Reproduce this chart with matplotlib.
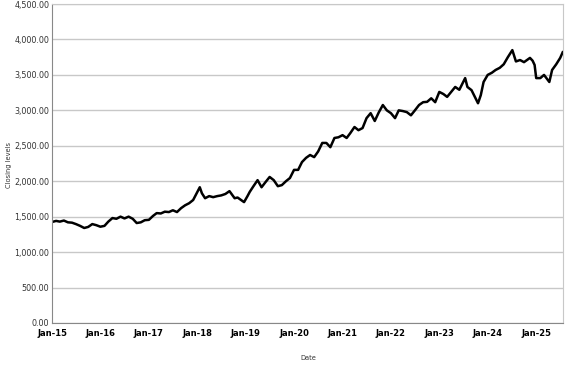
import numpy as np
import pandas as pd
import matplotlib
matplotlib.use('Agg')
import matplotlib.pyplot as plt
import matplotlib.dates as mdates
from matplotlib.ticker import FuncFormatter

dates = ['2015-01-02', '2015-02-01', '2015-03-01', '2015-04-01', '2015-05-01', '2015-06-01',
         '2015-07-01', '2015-08-01', '2015-09-01', '2015-10-01', '2015-11-01', '2015-12-01',
         '2016-01-01', '2016-02-01', '2016-03-01', '2016-04-01', '2016-05-01', '2016-06-01',
         '2016-07-01', '2016-08-01', '2016-09-01', '2016-10-01', '2016-11-01', '2016-12-01',
         '2017-01-01', '2017-02-01', '2017-03-01', '2017-04-01', '2017-05-01', '2017-06-01',
         '2017-07-01', '2017-08-01', '2017-09-01', '2017-10-01', '2017-11-01', '2017-12-01',
         '2018-01-20', '2018-02-05', '2018-03-01', '2018-04-01', '2018-05-01', '2018-06-01',
         '2018-07-01', '2018-08-01', '2018-09-01', '2018-10-10', '2018-11-01', '2018-12-20',
         '2019-01-15', '2019-02-01', '2019-03-01', '2019-04-01', '2019-05-01', '2019-06-01',
         '2019-07-01', '2019-08-01', '2019-09-01', '2019-10-01', '2019-11-01', '2019-12-01',
         '2020-01-01', '2020-02-01', '2020-03-01', '2020-04-01', '2020-05-01', '2020-06-01',
         '2020-07-01', '2020-08-01', '2020-09-01', '2020-10-01', '2020-11-01', '2020-12-01',
         '2021-01-01', '2021-02-01', '2021-03-01', '2021-04-01', '2021-05-01', '2021-06-01',
         '2021-07-01', '2021-08-01', '2021-09-01', '2021-10-01', '2021-11-01', '2021-12-01',
         '2022-01-01', '2022-02-01', '2022-03-01', '2022-04-01', '2022-05-01', '2022-06-01',
         '2022-07-01', '2022-08-01', '2022-09-01', '2022-10-01', '2022-11-01', '2022-12-01',
         '2023-01-01', '2023-02-01', '2023-03-01', '2023-04-01', '2023-05-01', '2023-06-01',
         '2023-07-15', '2023-08-01', '2023-09-01', '2023-10-20', '2023-11-10', '2023-12-01',
         '2024-01-01', '2024-02-01', '2024-03-01', '2024-04-01', '2024-05-01', '2024-06-01',
         '2024-07-05', '2024-08-01', '2024-09-01', '2024-10-01', '2024-11-15', '2024-12-05',
         '2024-12-20', '2025-01-01', '2025-02-01', '2025-03-01', '2025-04-10', '2025-05-01',
         '2025-06-01', '2025-07-01', '2025-07-20']

closing = [1425, 1440, 1430, 1445, 1420, 1415,
           1395, 1370, 1340, 1355, 1395, 1380,
           1358, 1370, 1430, 1480, 1470, 1500,
           1475, 1500, 1470, 1410, 1420, 1450,
           1455, 1510, 1550, 1545, 1570, 1565,
           1590, 1565, 1620, 1660, 1690, 1735,
           1915, 1830, 1760, 1790, 1775, 1790,
           1800, 1820, 1860, 1760, 1770, 1705,
           1790, 1850, 1930, 2015, 1915, 1990,
           2060, 2015, 1930, 1945, 2000, 2045,
           2160, 2160, 2270, 2330, 2370, 2340,
           2420, 2540, 2540, 2480, 2610, 2620,
           2650, 2610, 2680, 2765, 2720, 2750,
           2890, 2960, 2850, 2970, 3075, 3000,
           2960, 2890, 3000, 2990, 2975, 2930,
           3000, 3075, 3115, 3120, 3170, 3115,
           3260, 3230, 3190, 3260, 3330, 3290,
           3455, 3330, 3285, 3100, 3215, 3400,
           3500, 3530, 3570, 3600, 3650, 3750,
           3850, 3690, 3710, 3680, 3740, 3700,
           3640, 3455, 3455, 3500, 3400, 3570,
           3650, 3740, 3820]

x = pd.to_datetime(dates)

fig = plt.figure(figsize=(5.77, 3.67), dpi=100)
ax = fig.add_axes([0.0901, 0.12, 0.8856, 0.869])

ax.plot(x, closing, color='black', lw=1.8)

ax.set_ylim(0, 4500)
ax.set_yticks(np.arange(0, 4501, 500))
ax.yaxis.set_major_formatter(FuncFormatter(lambda v, p: f'{v:,.2f}'))
ax.set_xlim(pd.Timestamp('2015-01-01'), pd.Timestamp('2025-07-22'))
ax.xaxis.set_major_locator(mdates.YearLocator())
ax.xaxis.set_major_formatter(mdates.DateFormatter('Jan-%y'))

ax.grid(axis='y', color='#c8c8c8', lw=1)
ax.set_axisbelow(True)
ax.tick_params(length=0)
ax.tick_params(axis='y', pad=2)
ax.tick_params(axis='x', pad=4)
for lab in ax.get_yticklabels():
    lab.set_fontsize(5.8)
    lab.set_color('#333333')
for lab in ax.get_xticklabels():
    lab.set_fontsize(6)
    lab.set_fontweight('bold')
ax.spines['left'].set_color('#888888')
ax.spines['bottom'].set_color('#888888')
ax.spines['top'].set_color('#c8c8c8')
ax.spines['right'].set_color('#c8c8c8')

fig.text(0.016, 0.55, 'Closing levels', rotation=90, fontsize=4.8, va='center', ha='center', color='#333333')
fig.text(0.534, 0.025, 'Date', fontsize=4.8, ha='center', va='center', color='#333333')

fig.savefig('out.png', dpi=100)
